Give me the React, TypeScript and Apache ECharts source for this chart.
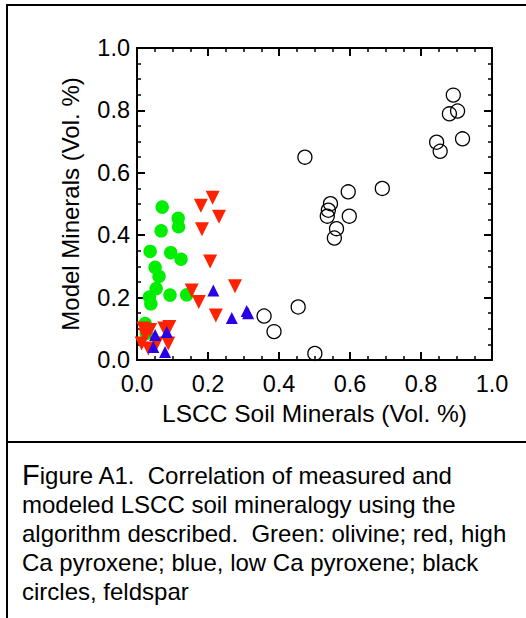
import React, { useEffect, useRef } from "react";
import * as echarts from "echarts";

// Feldspar (black open circles): [measured, modeled]
const feldspar: number[][] = [
  [0.473, 0.65], [0.844, 0.698], [0.854, 0.669], [0.917, 0.709],
  [0.891, 0.849], [0.903, 0.798], [0.880, 0.789],
  [0.595, 0.539], [0.691, 0.55], [0.545, 0.501], [0.539, 0.48],
  [0.536, 0.461], [0.598, 0.461], [0.562, 0.421], [0.556, 0.391],
  [0.454, 0.17], [0.358, 0.141], [0.386, 0.091], [0.501, 0.021],
];

// Olivine (green filled circles)
const olivine: number[][] = [
  [0.071, 0.49], [0.116, 0.454], [0.117, 0.427], [0.068, 0.414],
  [0.037, 0.348], [0.095, 0.344], [0.124, 0.323], [0.051, 0.297],
  [0.062, 0.268], [0.054, 0.229], [0.035, 0.202], [0.039, 0.18],
  [0.093, 0.208], [0.14, 0.209], [0.023, 0.117], [0.026, 0.085],
];

// High Ca pyroxene (red down triangles)
const highCaPyroxene: number[][] = [
  [0.213, 0.52], [0.18, 0.494], [0.231, 0.459], [0.183, 0.419],
  [0.206, 0.316], [0.276, 0.236], [0.154, 0.223], [0.174, 0.186],
  [0.222, 0.143],
  [0.018, 0.101], [0.091, 0.106], [0.077, 0.101], [0.037, 0.096],
  [0.023, 0.08], [0.013, 0.053], [0.032, 0.037], [0.055, 0.053],
  [0.088, 0.053],
];

// Low Ca pyroxene (blue up triangles)
const lowCaPyroxene: number[][] = [
  [0.215, 0.223], [0.267, 0.135], [0.309, 0.157], [0.313, 0.15],
  [0.051, 0.08], [0.084, 0.09], [0.046, 0.042], [0.079, 0.026],
];

const xTicks = ["0.0", "0.2", "0.4", "0.6", "0.8", "1.0"];
const yTicks = ["0.0", "0.2", "0.4", "0.6", "0.8", "1.0"];

const xAxisTitle = "LSCC Soil Minerals (Vol. %)";
const yAxisTitle = "Model Minerals (Vol. %)";

const captionLines = [
  "{big|F}igure A1.  Correlation of measured and",
  "modeled LSCC soil mineralogy using the",
  "algorithm described.  Green: olivine; red, high",
  "Ca pyroxene; blue, low Ca pyroxene; black",
  "circles, feldspar",
];

const FONT = "'Liberation Sans', Arial, Helvetica, sans-serif";

export default function App() {
  const ref = useRef<HTMLDivElement>(null);

  useEffect(() => {
    document.body.style.margin = "0";
    if (!ref.current) return;
    const chart = echarts.init(ref.current, null, { renderer: "svg" });

    const tickLabel = (v: number) => {
      const i = Math.round(v / 0.2);
      return xTicks[i] ?? v.toFixed(1);
    };
    const yTickLabel = (v: number) => {
      const i = Math.round(v / 0.2);
      return yTicks[i] ?? v.toFixed(1);
    };

    const baseAxis = (labels: boolean, fmt: (v: number) => string) => ({
      type: "value" as const,
      min: 0,
      max: 1,
      interval: 0.2,
      axisLine: { show: true, onZero: false, lineStyle: { color: "#000", width: 2 } },
      axisTick: { show: true, inside: true, length: 8, lineStyle: { color: "#000", width: 2 } },
      minorTick: { show: true, splitNumber: 4, length: 4, lineStyle: { color: "#000", width: 1.5 } },
      splitLine: { show: false },
      minorSplitLine: { show: false },
      axisLabel: {
        show: labels,
        formatter: fmt,
        color: "#000",
        fontSize: 23.5,
        fontFamily: FONT,
      },
    });

    const captionY = [475, 504, 533, 562, 591];

    chart.setOption({
      animation: false,
      backgroundColor: "#fff",
      grid: { left: 137, top: 48, width: 355, height: 312, containLabel: false },
      xAxis: [
        {
          ...baseAxis(true, tickLabel),
          position: "bottom",
          axisLabel: { ...baseAxis(true, tickLabel).axisLabel, margin: 12 },
          name: xAxisTitle,
          nameLocation: "middle",
          nameGap: 36,
          nameTextStyle: { color: "#000", fontSize: 24.5, fontFamily: FONT, verticalAlign: "top" },
        },
        { ...baseAxis(false, tickLabel), position: "top" },
      ],
      yAxis: [
        {
          ...baseAxis(true, yTickLabel),
          position: "left",
          axisLabel: { ...baseAxis(true, yTickLabel).axisLabel, margin: 7 },
          name: yAxisTitle,
          nameLocation: "middle",
          nameGap: 55,
          nameTextStyle: { color: "#000", fontSize: 24, fontFamily: FONT },
        },
        { ...baseAxis(false, yTickLabel), position: "right" },
      ],
      series: [
        {
          type: "scatter",
          name: "olivine",
          data: olivine,
          symbol: "circle",
          symbolSize: 13.5,
          itemStyle: { color: "#00ee00", opacity: 1 },
        },
        {
          type: "scatter",
          name: "high Ca pyroxene",
          data: highCaPyroxene,
          symbol: "triangle",
          symbolRotate: 180,
          symbolSize: 14,
          itemStyle: { color: "#ff2200", opacity: 1 },
        },
        {
          type: "scatter",
          name: "low Ca pyroxene",
          data: lowCaPyroxene,
          symbol: "triangle",
          symbolSize: 12,
          itemStyle: { color: "#2a00e6", opacity: 1 },
        },
        {
          type: "scatter",
          name: "feldspar",
          data: feldspar,
          symbol: "circle",
          symbolSize: 14,
          itemStyle: { color: "rgba(0,0,0,0)", borderColor: "#000", borderWidth: 1.3, opacity: 1 },
        },
      ],
      graphic: [
        { type: "line", shape: { x1: 7, y1: 5, x2: 526, y2: 5 }, style: { stroke: "#000", lineWidth: 2 } },
        { type: "line", shape: { x1: 7, y1: 4, x2: 7, y2: 618 }, style: { stroke: "#000", lineWidth: 2 } },
        { type: "line", shape: { x1: 7, y1: 442, x2: 526, y2: 442 }, style: { stroke: "#000", lineWidth: 2 } },
        ...captionLines.map((t, i) => ({
          type: "text",
          x: 22,
          y: captionY[i],
          style: {
            text: t,
            fill: "#000",
            fontSize: 24,
            fontFamily: FONT,
            verticalAlign: "middle",
            align: "left",
            rich: { big: { fontSize: 29, fontFamily: FONT, fill: "#000" } },
          },
        })),
      ],
    });

    return () => chart.dispose();
  }, []);

  return <div ref={ref} style={{ width: 526, height: 618 }} />;
}
